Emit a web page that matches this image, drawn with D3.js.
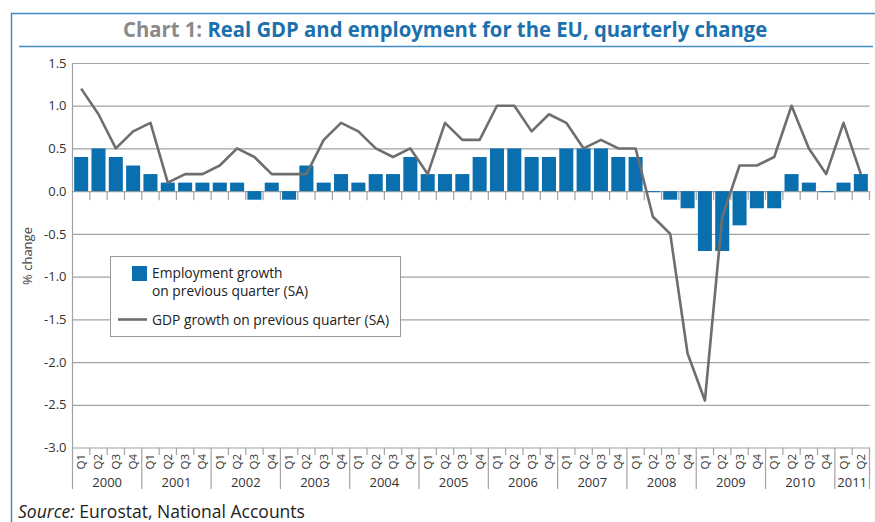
<!DOCTYPE html>
<html>
<head>
<meta charset="utf-8">
<script src="https://cdn.jsdelivr.net/npm/d3@7/dist/d3.min.js"></script>
<style>
	body { margin: 0; background: #fff; }
	svg { display: block; }
</style>
</head>
<body>
<svg id="graphic" width="875" height="522"></svg>
<script>
// Quarters 2000 Q1 .. 2011 Q2
var years = ["2000", "2001", "2002", "2003", "2004", "2005", "2006", "2007", "2008", "2009", "2010", "2011"];
var quarterNames = ["Q1", "Q2", "Q3", "Q4"];

// Employment growth on previous quarter (SA), %
var employment = [
	0.4, 0.5, 0.4, 0.3,
	0.2, 0.1, 0.1, 0.1,
	0.1, 0.1, -0.1, 0.1,
	-0.1, 0.3, 0.1, 0.2,
	0.1, 0.2, 0.2, 0.4,
	0.2, 0.2, 0.2, 0.4,
	0.5, 0.5, 0.4, 0.4,
	0.5, 0.5, 0.5, 0.4,
	0.4, 0.0, -0.1, -0.2,
	-0.7, -0.7, -0.4, -0.2,
	-0.2, 0.2, 0.1, 0.0,
	0.1, 0.2
];

// GDP growth on previous quarter (SA), %
var gdp = [
	1.2, 0.9, 0.5, 0.7,
	0.8, 0.1, 0.2, 0.2,
	0.3, 0.5, 0.4, 0.2,
	0.2, 0.2, 0.6, 0.8,
	0.7, 0.5, 0.4, 0.5,
	0.2, 0.8, 0.6, 0.6,
	1.0, 1.0, 0.7, 0.9,
	0.8, 0.5, 0.6, 0.5,
	0.5, -0.3, -0.5, -1.9,
	-2.45, -0.3, 0.3, 0.3,
	0.4, 1.0, 0.5, 0.2,
	0.8, 0.2
];

var yTicks = [1.5, 1.0, 0.5, 0.0, -0.5, -1.0, -1.5, -2.0, -2.5, -3.0];

var BLUE = "#0a6fae";
var FRAME_BLUE = "#3f8dc6";
var GREY_LINE = "#6e6e6e";
var GRID = "#a3a3a3";
var FONT = "'Open Sans', 'Noto Sans', sans-serif";


function buildQuarters() {
	var qs = [];
	for (var i = 0; i < employment.length; i++) {
		qs.push({
			idx: i,
			year: years[Math.floor(i / 4)],
			q: quarterNames[i % 4],
			emp: employment[i],
			gdp: gdp[i]
		});
	}
	return qs;
}


function generateGraphic() {
	var data = buildQuarters();
	var svg = d3.select("svg");

	var plot = { left: 72.5, right: 869.5, top: 63, bottom: 447.5 };

	var x = d3.scaleBand()
		.domain(data.map(function(d) { return d.idx; }))
		.range([plot.left, plot.right])
		.paddingInner(0.19)
		.paddingOuter(0.095);

	var y = d3.scaleLinear()
		.domain([-3, 1.5])
		.range([plot.bottom, plot.top]);

	// boundary between quarters i-1 and i
	function edge(i) { return plot.left + i * x.step(); }
	function mid(i) { return x(i) + x.bandwidth() / 2; }

	// Frame and title
	svg.append("path")
		.attr("fill", "none")
		.attr("stroke", FRAME_BLUE)
		.attr("stroke-width", 1.5)
		.attr("d", "M11.5,522V13.5H875");

	svg.append("line")
		.attr("x1", 19).attr("x2", 873)
		.attr("y1", 46.5).attr("y2", 46.5)
		.attr("stroke", FRAME_BLUE)
		.attr("stroke-width", 1.5);

	var title = svg.append("text")
		.attr("x", 0)
		.attr("y", 37.5)
		.attr("font-family", FONT)
		.attr("font-weight", "bold")
		.attr("font-size", 21);
	title.append("tspan").attr("fill", "#8a8a8a").text("Chart 1: ");
	title.append("tspan").attr("fill", "#1b70ad").text("Real GDP and employment for the EU, quarterly change");

	// squeeze to the condensed width of the original
	var tw = title.node().getComputedTextLength();
	var targetW = 645;
	title.attr("transform", "translate(123,0) scale(" + (targetW / tw) + ",1)");

	// Gridlines + y labels
	var yAxis = d3.axisLeft(y)
		.tickValues(yTicks)
		.tickSize(-(plot.right - plot.left))
		.tickPadding(6)
		.tickFormat(function(d) { return d.toFixed(1); });

	var yg = svg.append("g")
		.attr("transform", "translate(" + plot.left + ",0)")
		.call(yAxis);
	yg.select(".domain").remove();
	yg.selectAll(".tick line")
		.attr("stroke", GRID)
		.attr("stroke-width", 1.2);
	yg.selectAll(".tick text")
		.attr("fill", "#333")
		.attr("font-family", FONT)
		.attr("font-size", 13);

	// left axis line, extended down through the category labels
	svg.append("line")
		.attr("x1", plot.left).attr("x2", plot.left)
		.attr("y1", plot.top).attr("y2", 489)
		.attr("stroke", GRID)
		.attr("stroke-width", 1.2);

	svg.append("text")
		.attr("transform", "translate(32,256) rotate(-90)")
		.attr("text-anchor", "middle")
		.attr("font-family", FONT)
		.attr("font-size", 13)
		.attr("fill", "#444")
		.text("% change");

	// Bars
	svg.append("g").selectAll("rect")
		.data(data)
		.enter().append("rect")
			.attr("x", function(d) { return x(d.idx); })
			.attr("width", x.bandwidth())
			.attr("y", function(d) { return y(Math.max(0, d.emp)); })
			.attr("height", function(d) { return Math.max(1, Math.abs(y(d.emp) - y(0))); })
			.attr("fill", BLUE);

	// small ticks under the zero line
	var zg = svg.append("g");
	for (var i = 1; i <= data.length; i++) {
		zg.append("line")
			.attr("x1", edge(i)).attr("x2", edge(i))
			.attr("y1", y(0)).attr("y2", y(0) + 9)
			.attr("stroke", GRID)
			.attr("stroke-width", 1.2);
	}

	// GDP line
	var line = d3.line()
		.x(function(d) { return mid(d.idx); })
		.y(function(d) { return y(d.gdp); });

	svg.append("path")
		.datum(data)
		.attr("fill", "none")
		.attr("stroke", GREY_LINE)
		.attr("stroke-width", 2.6)
		.attr("stroke-linejoin", "round")
		.attr("d", line);

	// Category axis at the bottom
	var bg = svg.append("g");
	for (var i = 1; i <= data.length; i++) {
		var isYear = (i % 4 === 0) || i === data.length;
		bg.append("line")
			.attr("x1", edge(i)).attr("x2", edge(i))
			.attr("y1", plot.bottom).attr("y2", isYear ? 489 : 455)
			.attr("stroke", GRID)
			.attr("stroke-width", 1.2);
	}

	bg.selectAll("text.q")
		.data(data)
		.enter().append("text")
			.attr("class", "q")
			.attr("transform", function(d) { return "translate(" + (mid(d.idx) + 4) + ",454) rotate(-90)"; })
			.attr("text-anchor", "end")
			.attr("font-family", FONT)
			.attr("font-size", 11.5)
			.attr("fill", "#333")
			.text(function(d) { return d.q; });

	var yearGroups = d3.groups(data, function(d) { return d.year; });
	bg.selectAll("text.yr")
		.data(yearGroups)
		.enter().append("text")
			.attr("class", "yr")
			.attr("x", function(g) {
				var first = g[1][0].idx, last = g[1][g[1].length - 1].idx;
				return (edge(first) + edge(last + 1)) / 2;
			})
			.attr("y", 487)
			.attr("text-anchor", "middle")
			.attr("font-family", FONT)
			.attr("font-size", 13)
			.attr("fill", "#333")
			.text(function(g) { return g[0]; });

	// Legend
	var lg = svg.append("g");
	lg.append("rect")
		.attr("x", 110.5).attr("y", 256.5)
		.attr("width", 290).attr("height", 80)
		.attr("fill", "#fff")
		.attr("stroke", "#999");
	lg.append("rect")
		.attr("x", 132).attr("y", 266)
		.attr("width", 15).attr("height", 15)
		.attr("fill", BLUE);
	lg.append("line")
		.attr("x1", 118).attr("x2", 147)
		.attr("y1", 319.5).attr("y2", 319.5)
		.attr("stroke", GREY_LINE)
		.attr("stroke-width", 2.6);

	var legendLines = [
		{ t: "Employment growth", y: 278 },
		{ t: "on previous quarter (SA)", y: 296 },
		{ t: "GDP growth on previous quarter (SA)", y: 325 }
	];
	lg.selectAll("text")
		.data(legendLines)
		.enter().append("text")
			.attr("x", 152)
			.attr("y", function(d) { return d.y; })
			.attr("font-family", FONT)
			.attr("font-size", 13.8)
			.attr("fill", "#222")
			.text(function(d) { return d.t; });

	// Source
	var src = svg.append("text")
		.attr("x", 18)
		.attr("y", 518)
		.attr("font-family", FONT)
		.attr("font-size", 17.5)
		.attr("fill", "#222");
	src.append("tspan").attr("font-style", "italic").text("Source:");
	src.append("tspan").text(" Eurostat, National Accounts");
}

generateGraphic();
</script>
</body>
</html>
